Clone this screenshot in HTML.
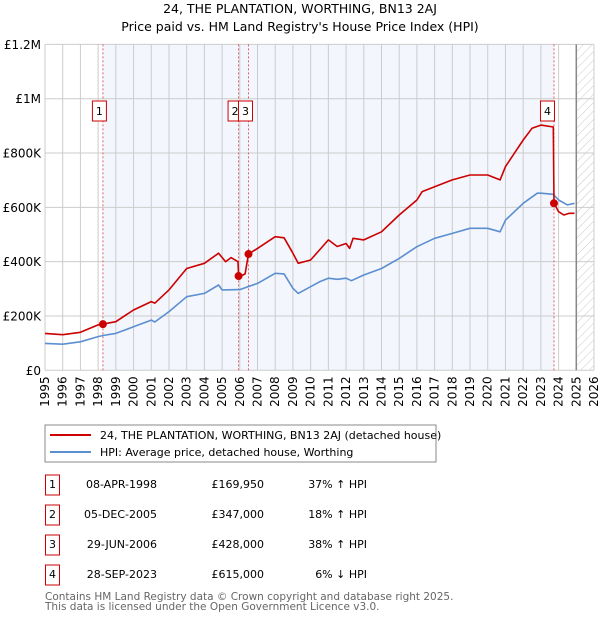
<!DOCTYPE html>
<html><head><meta charset="utf-8">
<style>
body{margin:0;background:#fff;}
svg{display:block;font-family:"DejaVu Sans","Liberation Sans",sans-serif;}
</style></head>
<body>
<svg id="chart" width="600" height="620" viewBox="0 0 600 620">
<defs>
<pattern id="hatch" patternUnits="userSpaceOnUse" width="6" height="6" patternTransform="rotate(45)">
<line x1="0" y1="0" x2="0" y2="6" stroke="#c8c8c8" stroke-width="1"/>
</pattern>
</defs>
<text x="300" y="13" text-anchor="middle" font-size="12.5" fill="#000">24, THE PLANTATION, WORTHING, BN13 2AJ</text>
<text x="300" y="31" text-anchor="middle" font-size="12.5" fill="#000">Price paid vs. HM Land Registry's House Price Index (HPI)</text>
<g id="plot"></g>
<g>
<rect x="45" y="425" width="391" height="37" fill="#fff" stroke="#888" stroke-width="1"/>
<line x1="50" y1="435" x2="91" y2="435" stroke="#cc0000" stroke-width="2"/>
<text x="100" y="439" font-size="11">24, THE PLANTATION, WORTHING, BN13 2AJ (detached house)</text>
<line x1="50" y1="452" x2="91" y2="452" stroke="#5b8fd0" stroke-width="2"/>
<text x="100" y="456" font-size="11">HPI: Average price, detached house, Worthing</text>
</g>
<g id="table" font-size="11"></g>
<text x="45" y="600" font-size="10.5" fill="#666">Contains HM Land Registry data © Crown copyright and database right 2025.</text>
<text x="45" y="610" font-size="10.5" fill="#666">This data is licensed under the Open Government Licence v3.0.</text>
</svg>
<script>
const hpiYears=[1995,1996,1997,1998,1998.27,1999,2000,2001,2001.2,2002,2003,2004,2004.8,2005,2006,2007,2008,2008.5,2009,2009.3,2010,2010.5,2011,2011.5,2012,2012.3,2013,2014,2015,2016,2017,2018,2019,2020,2020.7,2021,2022,2022.8,2023,2023.7,2024,2024.5,2024.9];
const hpiValues=[99,96,105,124,128,136,160,185,178,216,271,283,314,296,297,320,357,355,302,283,308,326,339,335,339,330,351,375,412,455,486,504,523,523,510,553,615,652,652,648,627,609,615];
const priceYears=[1995,1996,1997,1998,1998.27,1999,2000,2001,2001.2,2002,2003,2004,2004.8,2005.2,2005.5,2005.9,2005.93,2006.0,2006.3,2006.49,2007,2008,2008.5,2009,2009.3,2010,2010.5,2011,2011.5,2012,2012.2,2012.4,2013,2014,2015,2016,2016.3,2017,2018,2019,2020,2020.7,2021,2021.5,2022,2022.5,2023,2023.7,2023.74,2024,2024.3,2024.6,2024.9];
const priceValues=[136,131,140,167,170,179,222,253,247,296,375,394,431,400,415,400,347,345,355,428,449,492,488,431,394,406,443,480,456,467,449,486,480,510,572,627,658,676,701,719,719,701,750,799,848,891,903,896,615,584,572,578,578];
const saleYears=[1998.27,2005.93,2006.49,2023.74];
const saleValues=[169.95,347,428,615];
const saleLabels=["1","2","3","4"];
const saleDates=["08-APR-1998","05-DEC-2005","29-JUN-2006","28-SEP-2023"];
const salePrices=["£169,950","£347,000","£428,000","£615,000"];
const saleHpi=["37% ↑ HPI","18% ↑ HPI","38% ↑ HPI","6% ↓ HPI"];
const yTicks=[0,200,400,600,800,1000,1200];
const yTickLabels=["£0","£200K","£400K","£600K","£800K","£1M","£1.2M"];
const xTicks=[1995,1996,1997,1998,1999,2000,2001,2002,2003,2004,2005,2006,2007,2008,2009,2010,2011,2012,2013,2014,2015,2016,2017,2018,2019,2020,2021,2022,2023,2024,2025,2026];

const NS="http://www.w3.org/2000/svg";
const X0=45,X1=594,Y0=370.3,Y1=44.4;
function sx(v){return X0+(v-1995)/(2026-1995)*(X1-X0);}
function sy(v){return Y0-(v/1200)*(Y0-Y1);}
function mk(parent,tag,attrs){const e=document.createElementNS(NS,tag);for(const k in attrs)e.setAttribute(k,attrs[k]);parent.appendChild(e);return e;}
const plot=document.getElementById('plot');

let r=mk(plot,'rect',{x:sx(saleYears[0]),y:Y1,width:sx(saleYears[3])-sx(saleYears[0]),height:Y0-Y1,fill:'#f3f6fd'});


let h=mk(plot,'rect',{x:sx(2025),y:Y1,width:X1-sx(2025),height:Y0-Y1,fill:'url(#hatch)'});



xTicks.forEach(t=>{
  let l=mk(plot,'line',{x1:sx(t),x2:sx(t),y1:Y1,y2:Y0,stroke:'#ccc','stroke-width':1});
  
  
  let tx=mk(plot,'text',{x:0,y:0,'font-size':12,'text-anchor':'end',transform:`translate(${sx(t)+4},${Y0+6}) rotate(-90)`});
  tx.textContent=t;
  
  
});
yTicks.forEach((t,i)=>{
  let l=mk(plot,'line',{x1:X0,x2:X1,y1:sy(t),y2:sy(t),stroke:'#ccc','stroke-width':1});
  
  
  let tx=mk(plot,'text',{x:X0-4,y:sy(t)+4.5,'font-size':12,'text-anchor':'end'});
  tx.textContent=yTickLabels[i];
  
  
});
let cur=mk(plot,'line',{x1:sx(2025),x2:sx(2025),y1:Y1,y2:Y0,stroke:'#888','stroke-width':1.5});



saleYears.forEach((t,i)=>{
  let l=mk(plot,'line',{x1:sx(t),x2:sx(t),y1:Y1,y2:Y0,stroke:'#e06060','stroke-width':1,'stroke-dasharray':'2,2'});
  
  
});

function path(xs,ys,color,name){
  let d=xs.map((x,i)=>(i?'L':'M')+sx(x).toFixed(1)+','+sy(ys[i]).toFixed(1)).join('');
  let p=mk(plot,'path',{d:d,fill:'none',stroke:color,'stroke-width':1.6,'stroke-linejoin':'round'});
  
  
}
path(hpiYears,hpiValues,'#5b8fd0','hpi-line');
path(priceYears,priceValues,'#cc0000','price-line');

const boxOffsets=[-10.5,-10.5,-10,-13.5];
saleYears.forEach((t,i)=>{
  let c=mk(plot,'circle',{cx:sx(t),cy:sy(saleValues[i]),r:4,fill:'#cc0000'});
  
  
  let bx=sx(t)+boxOffsets[i];
  let g=mk(plot,'g',{});
  
  
  mk(g,'rect',{x:bx,y:101,width:14,height:20,fill:'#fff',stroke:'#cc0000','stroke-width':1});
  let tx=mk(g,'text',{x:bx+7,y:115,'font-size':11,'text-anchor':'middle'});
  tx.textContent=saleLabels[i];
});

const tbl=document.getElementById('table');
saleLabels.forEach((s,i)=>{
  const y=475+i*30;
  let g=mk(tbl,'g',{});
  
  
  mk(g,'rect',{x:45.5,y:y,width:14,height:20,fill:'#fff',stroke:'#cc0000','stroke-width':1});
  let a=mk(g,'text',{x:52.5,y:y+13,'text-anchor':'middle'});a.textContent=s;
  let b=mk(g,'text',{x:157,y:y+13,'text-anchor':'end'});b.textContent=saleDates[i];
  let c=mk(g,'text',{x:264,y:y+13,'text-anchor':'end'});c.textContent=salePrices[i];
  let d=mk(g,'text',{x:367,y:y+13,'text-anchor':'end'});d.textContent=saleHpi[i];
});
</script>
</body></html>
